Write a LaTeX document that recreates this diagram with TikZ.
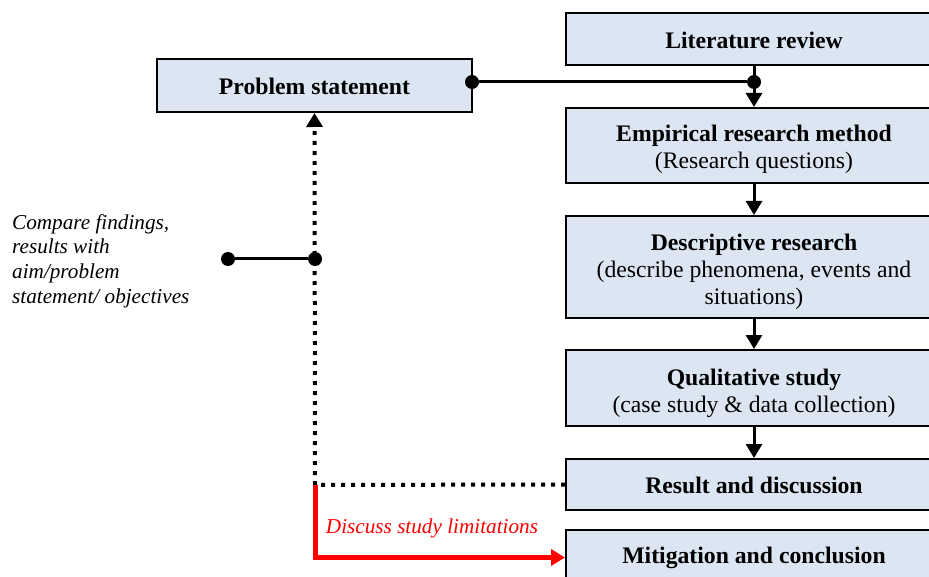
\documentclass[tikz,border=0pt]{standalone}
\usepackage{fontspec}
\setmainfont{Liberation Serif}
\usetikzlibrary{arrows.meta}
\definecolor{boxfill}{HTML}{DCE6F2}
\definecolor{redline}{HTML}{FF0000}
\tikzset{
  stage/.style={draw=black, line width=2pt, fill=boxfill, minimum width=376pt, inner sep=0pt},
  stagetext/.style={inner sep=0pt, align=center, font=\fontsize{23.7}{27}\selectfont},
  tip/.style={-{Triangle[length=14pt,width=16pt]}},
  conn/.style={line width=3pt, tip},
  dotline/.style={line width=4pt, dash pattern=on 4pt off 6pt},
  joint/.style={circle, fill=black, minimum size=14pt, inner sep=0pt},
  note/.style={font=\fontsize{21.2}{24.6}\selectfont\itshape, align=left, inner sep=0pt},
  redconn/.style={draw=redline, line width=5pt, tip}
}
\begin{document}
\begin{tikzpicture}[x=1pt,y=-1pt]
\useasboundingbox (0,0) rectangle (929,577);
\clip (0,0) rectangle (929,577);
\node[stage, minimum height=52pt] (lit) at (754,39) {};
\node[stage, minimum width=315pt, minimum height=53pt] (prob) at (314.5,85.5) {};
\node[stage, minimum height=75pt] (emp) at (754,145.5) {};
\node[stage, minimum height=102pt] (desc) at (754,267) {};
\node[stage, minimum height=76pt] (qual) at (754,388) {};
\node[stage, minimum height=51pt] (res) at (754,484.5) {};
\node[stage, minimum height=56pt] (mit) at (754,557.5) {};

\node[stagetext, yshift=-1pt] (littext) at (lit.center) {\textbf{Literature review}};
\node[stagetext, yshift=-1pt] (probtext) at (prob.center) {\textbf{Problem statement}};
\node[stagetext, yshift=-4pt] (emptext) at (emp.center) {\textbf{Empirical research method}\\(Research questions)};
\node[stagetext, yshift=-5pt] (desctext) at (desc.center) {\textbf{Descriptive research}\\(describe phenomena, events and\\situations)};
\node[stagetext, yshift=-5pt] (qualtext) at (qual.center) {\textbf{Qualitative study}\\(case study \& data collection)};
\node[stagetext, yshift=-1pt] (restext) at (res.center) {\textbf{Result and discussion}};
\node[stagetext, yshift=0pt] (mittext) at (mit.center) {\textbf{Mitigation and conclusion}};

\node[note, anchor=west] (cmp) at (12,261) {Compare findings,\\results with\\aim/problem\\statement/ objectives};
\node[font=\fontsize{21.2}{24}\selectfont\itshape, text=redline, inner sep=0pt] (lim) at (432,528) {Discuss study limitations};

\coordinate (corner) at (315,485);

\draw[conn] (lit.south) -- (emp.north);
\draw[conn] (emp.south) -- (desc.north);
\draw[conn] (desc.south) -- (qual.north);
\draw[conn] (qual.south) -- (res.north);

\node[joint] (jl) at (754,82) {};
\node[joint] (jp) at (472,82) {};
\draw[line width=3pt] (jp) -- (jl);

\draw[dotline, tip] (res.west) -- (corner) -- (prob.south);
\draw[redconn] (corner) |- (mit.west);

\node[joint] (jm) at (315,259) {};
\node[joint] (jc) at (228,259) {};
\draw[line width=3pt] (jc) -- (jm);
\end{tikzpicture}
\end{document}
